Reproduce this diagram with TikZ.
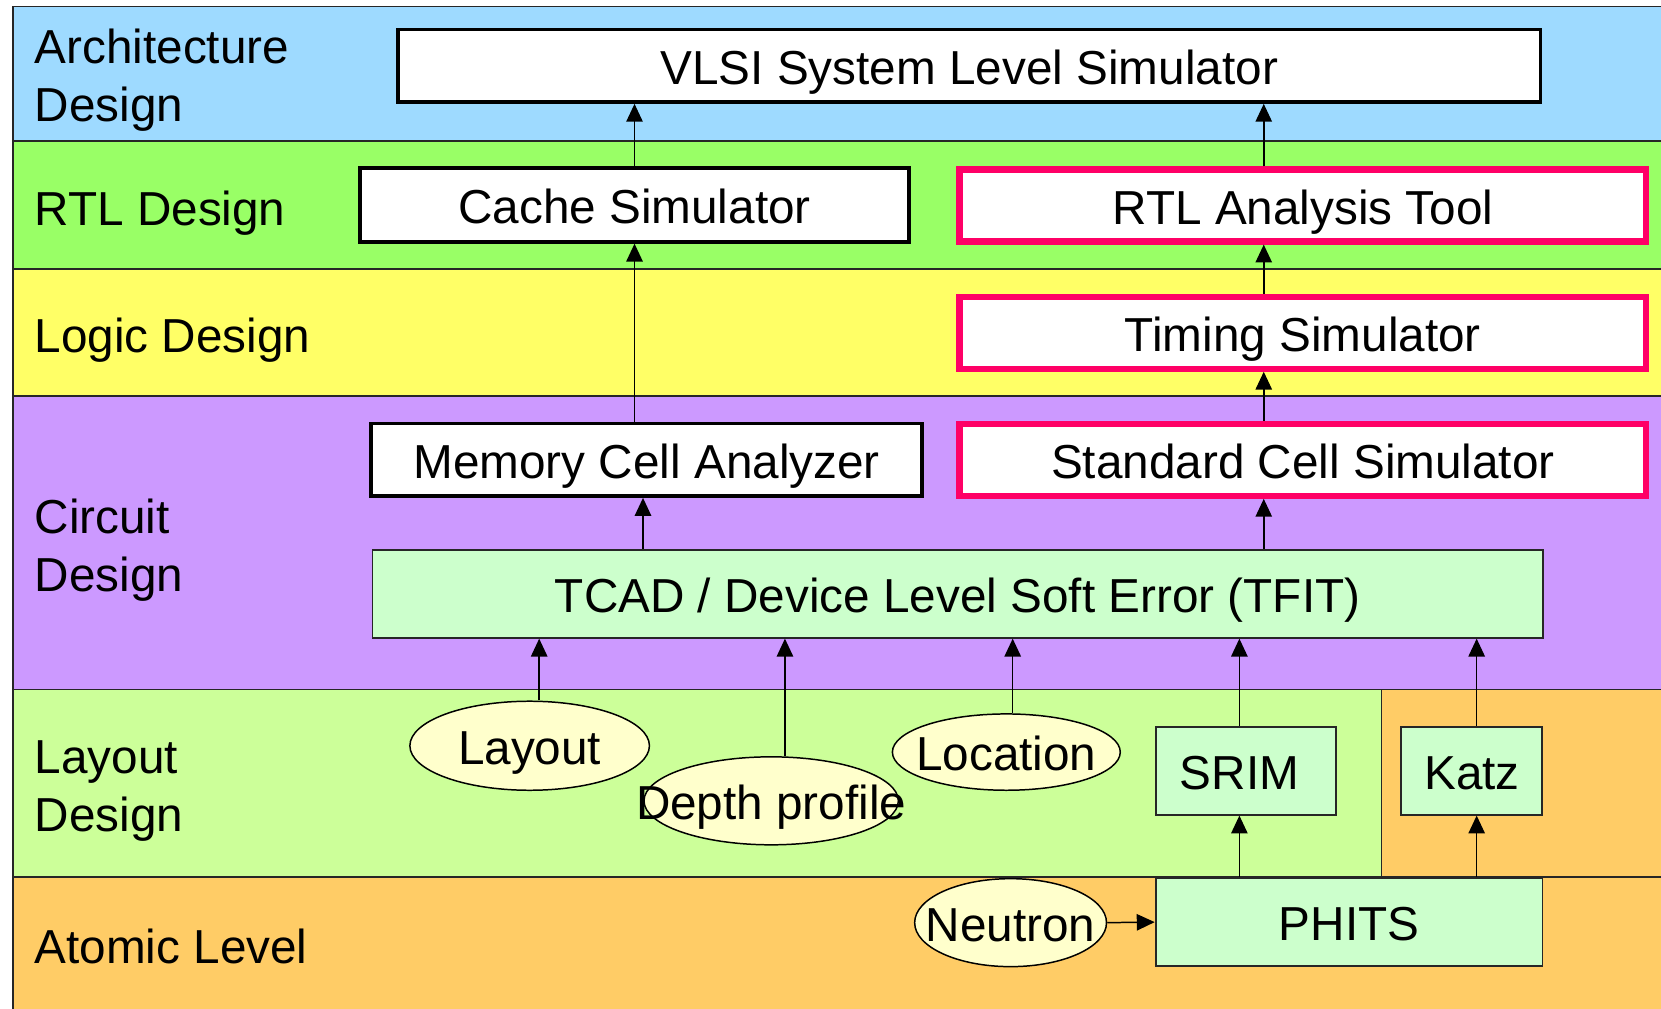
\documentclass[tikz,border=0pt]{standalone}
\usepackage{fontspec}
\setmainfont{Liberation Sans}
\usetikzlibrary{arrows.meta,shapes.geometric}
\definecolor{archBlue}{RGB}{158,218,255}
\definecolor{rtlGreen}{RGB}{153,255,102}
\definecolor{logicYellow}{RGB}{255,255,102}
\definecolor{circPurple}{RGB}{204,153,255}
\definecolor{layGreen}{RGB}{204,255,153}
\definecolor{atomOrange}{RGB}{255,204,102}
\definecolor{tcadGreen}{RGB}{204,255,204}
\definecolor{ellYellow}{RGB}{255,255,204}
\definecolor{hotPink}{RGB}{255,0,102}

\begin{document}
\begin{tikzpicture}[x=0.01cm,y=-0.01cm,
  font=\fontsize{12.8}{15.6}\selectfont,
  band/.style={draw=black!85,line width=0.45pt},
  lbl/.style={anchor=west,align=left,inner sep=0pt},
  txt/.style={text height=10pt,text depth=0pt,inner sep=0pt},
  whitebox/.style={txt,draw,line width=1pt,fill=white},
  redbox/.style={txt,draw=hotPink,line width=1.65pt,fill=white,minimum width=6.48cm,minimum height=0.68cm},
  greenbox/.style={txt,draw=black!85,line width=0.5pt,fill=tcadGreen},
  blob/.style={txt,ellipse,draw,line width=0.4pt,fill=ellYellow},
  arr/.style={-{Triangle[length=4.8pt,width=4.4pt]},line width=0.4pt}]
 \useasboundingbox (0,0) rectangle (1568,952);
 \fill[white] (0,0) rectangle (1568,952);
 \filldraw[band,fill=archBlue]    (12,6)    rectangle (1575,133);
 \filldraw[band,fill=rtlGreen]    (12,133)  rectangle (1575,254);
 \filldraw[band,fill=logicYellow] (12,254)  rectangle (1575,374);
 \filldraw[band,fill=circPurple]  (12,374)  rectangle (1575,651);
 \filldraw[band,fill=layGreen]    (12,651)  rectangle (1304,828);
 \filldraw[band,fill=atomOrange]  (1304,651) rectangle (1575,828);
 \filldraw[band,fill=atomOrange]  (12,828)  rectangle (1575,960);

 \node[lbl] (archL)  at (32,76)  {Architecture\\Design};
 \node[lbl,txt] (rtlL)   at (32,195) {RTL Design};
 \node[lbl,txt] (logicL) at (32,315) {Logic Design};
 \node[lbl] (circL)  at (32,519) {Circuit\\Design};
 \node[lbl] (layL)   at (32,747) {Layout\\Design};
 \node[lbl,txt] (atomL)  at (32,892) {Atomic Level};

 \node[whitebox,minimum width=10.78cm,minimum height=0.685cm] (vlsi) at (915,62) {VLSI System Level Simulator};
 \node[whitebox,minimum width=5.18cm,minimum height=0.695cm] (cache) at (599,193.5) {Cache Simulator};
 \node[redbox] (rtl) at (1230,194) {RTL Analysis Tool};
 \node[redbox] (tim) at (1230,314) {Timing Simulator};
 \node[whitebox,minimum width=5.2cm,minimum height=0.685cm] (mem) at (610.5,434) {Memory Cell Analyzer};
 \node[redbox] (std) at (1230,434) {Standard Cell Simulator};
 \node[greenbox,minimum width=11.04cm,minimum height=0.83cm] (tcad) at (904,560.5) {TCAD / Device Level Soft Error (TFIT)};

 \node[blob,minimum width=2.26cm,minimum height=0.84cm] (lay) at (500,704) {\makebox[0pt]{Layout}};
 \node[blob,minimum width=2.4cm,minimum height=0.83cm] (depth) at (728,756) {\makebox[0pt]{Depth profile}};
 \node[blob,minimum width=2.15cm,minimum height=0.72cm] (loc) at (950,710) {\makebox[0pt]{Location}};
 \node[greenbox,minimum width=1.7cm,minimum height=0.83cm] (srim) at (1176,727.5) {\hspace{-0.12cm}SRIM};
 \node[greenbox,minimum width=1.33cm,minimum height=0.83cm] (katz) at (1389.5,727.5) {Katz};
 \node[blob,minimum width=1.81cm,minimum height=0.83cm] (neu) at (954,871) {\makebox[0pt]{Neutron}};
 \node[greenbox,minimum width=3.65cm,minimum height=0.83cm] (phits) at (1273.5,870.5) {PHITS};

 \coordinate (colA) at (599,0);
 \coordinate (colB) at (1193,0);
 \coordinate (colC) at (607,0);
 \coordinate (colL) at (509,0);
 \coordinate (colD) at (741,0);
 \coordinate (colO) at (956,0);
 \coordinate (colS) at (1170,0);
 \coordinate (colK) at (1394,0);
 \path[arr]
   (colA |- cache.north) edge (colA |- vlsi.south)
   (colB |- rtl.north)   edge (colB |- vlsi.south)
   (colA |- mem.north)   edge (colA |- cache.south)
   (colB |- tim.north)   edge (colB |- rtl.south)
   (colB |- std.north)   edge (colB |- tim.south)
   (colC |- tcad.north)  edge (colC |- mem.south)
   (colB |- tcad.north)  edge (colB |- std.south)
   (colL |- lay.north)   edge (colL |- tcad.south)
   (colD |- depth.north) edge (colD |- tcad.south)
   (colO |- loc.north)   edge (colO |- tcad.south)
   (colS |- srim.north)  edge (colS |- tcad.south)
   (colK |- katz.north)  edge (colK |- tcad.south)
   (colS |- phits.north) edge (colS |- srim.south)
   (colK |- phits.north) edge (colK |- katz.south)
   (neu.east)            edge (phits.west);
\end{tikzpicture}
\end{document}
